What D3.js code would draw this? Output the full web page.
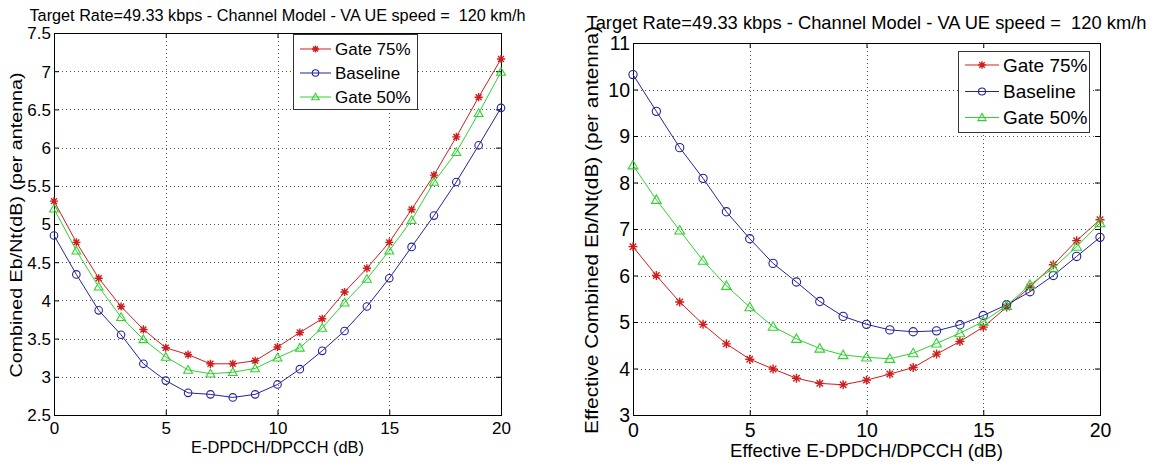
<!DOCTYPE html>
<html>
<head>
<meta charset="utf-8">
<script src="https://cdn.jsdelivr.net/npm/d3@7"></script>
<style>
  html, body { margin: 0; padding: 0; background: #fff; }
  svg { display: block; font-family: "Liberation Sans", Arial, sans-serif; }
  text { white-space: pre; }
</style>
</head>
<body>
<svg id="chart" width="1157" height="466"></svg>
<script>
// ---------------- data ----------------
const titleText = "Target Rate=49.33 kbps - Channel Model - VA UE speed =  120 km/h";
const xValues = d3.range(0, 21); // 0..20 dB

// Left chart: Combined Eb/Nt vs E-DPDCH/DPCCH
const leftGate75   = [5.30, 4.76, 4.29, 3.92, 3.62, 3.38, 3.29, 3.17, 3.17, 3.21, 3.39, 3.58, 3.76, 4.11, 4.42, 4.76, 5.19, 5.64, 6.14, 6.66, 7.16];
const leftBaseline = [4.85, 4.34, 3.87, 3.55, 3.17, 2.95, 2.79, 2.77, 2.73, 2.77, 2.90, 3.10, 3.34, 3.60, 3.92, 4.29, 4.70, 5.11, 5.55, 6.03, 6.52];
const leftGate50   = [5.20, 4.65, 4.18, 3.78, 3.49, 3.26, 3.09, 3.04, 3.06, 3.11, 3.25, 3.38, 3.64, 3.97, 4.28, 4.65, 5.05, 5.55, 5.94, 6.45, 6.99];

// Right chart: Effective Combined Eb/Nt vs Effective E-DPDCH/DPCCH
const rightGate75   = [6.62, 6.00, 5.43, 4.95, 4.53, 4.20, 3.99, 3.79, 3.68, 3.65, 3.75, 3.88, 4.02, 4.31, 4.58, 4.89, 5.32, 5.75, 6.23, 6.75, 7.20];
const rightBaseline = [10.32, 9.53, 8.75, 8.09, 7.37, 6.79, 6.26, 5.86, 5.44, 5.12, 4.95, 4.83, 4.79, 4.81, 4.94, 5.14, 5.37, 5.65, 6.00, 6.41, 6.82];
const rightGate50   = [8.37, 7.63, 6.97, 6.32, 5.78, 5.32, 4.90, 4.64, 4.43, 4.29, 4.24, 4.21, 4.33, 4.54, 4.76, 5.01, 5.35, 5.80, 6.16, 6.62, 7.13];

const seriesNames = ["Gate 75%", "Baseline", "Gate 50%"];
const seriesMarkers = ["star", "circle", "triangle"];
const seriesColors = ["#d01e1e", "#23239c", "#2fd22f"];

const xTicks = [0, 5, 10, 15, 20];
const leftYTicks = [2.5, 3, 3.5, 4, 4.5, 5, 5.5, 6, 6.5, 7, 7.5];
const rightYTicks = [3, 4, 5, 6, 7, 8, 9, 10, 11];

const leftYLabel = "Combined Eb/Nt(dB) (per antenna)";
const rightYLabel = "Effective Combined Eb/Nt(dB) (per antenna)";
const leftXLabel = "E-DPDCH/DPCCH (dB)";
const rightXLabel = "Effective E-DPDCH/DPCCH (dB)";

// ---------------- layout ----------------
const panels = [
  {
    x0: 54, x1: 501, y0: 33, y1: 415, ydom: [2.5, 7.5], yticks: leftYTicks,
    series: [leftGate75, leftBaseline, leftGate50],
    font: 16.5, titleFont: 16.3, tickFont: 17, titleY: 21, titleLen: 496,
    xTickY: 434, xLabelY: 453, xLabel: leftXLabel, xLabelLen: 173,
    yLabel: leftYLabel, yLabelX: 22, yLabelLen: 305,
    legend: { x: 293, y: 34, w: 124, h: 75, rows: [49, 73, 97], s0: 300, s1: 331, tx: 335 },
    mk: 1.05
  },
  {
    x0: 633, x1: 1100, y0: 43, y1: 415, ydom: [3, 11], yticks: rightYTicks,
    series: [rightGate75, rightBaseline, rightGate50],
    font: 18.5, titleFont: 18.2, tickFont: 19.5, titleY: 28.5, titleLen: 560,
    xTickY: 437, xLabelY: 457, xLabel: rightXLabel, xLabelLen: 273,
    yLabel: rightYLabel, yLabelX: 598, yLabelLen: 408,
    legend: { x: 958, y: 51, w: 131, h: 81, rows: [65, 91.5, 117.5], s0: 965, s1: 999, tx: 1003 },
    mk: 1.15
  }
];

const svg = d3.select("#chart");

function drawMarker(g, type, cx, cy, color, k) {
  if (type === "circle") {
    g.append("circle").attr("cx", cx).attr("cy", cy).attr("r", 3.6 * k)
      .attr("fill", "none").attr("stroke", color).attr("stroke-width", 1.1);
  } else if (type === "triangle") {
    const h = 4.2 * k;
    g.append("path")
      .attr("d", `M${cx},${cy - h} L${cx + h},${cy + h * 0.75} L${cx - h},${cy + h * 0.75} Z`)
      .attr("fill", "none").attr("stroke", color).attr("stroke-width", 1.1);
  } else {
    const a = 3.9 * k, b = a * 0.72;
    g.append("path")
      .attr("d", `M${cx - a},${cy} L${cx + a},${cy} M${cx},${cy - a} L${cx},${cy + a} M${cx - b},${cy - b} L${cx + b},${cy + b} M${cx - b},${cy + b} L${cx + b},${cy - b}`)
      .attr("stroke", color).attr("stroke-width", 1.4);
  }
}

panels.forEach(p => {
  const x = d3.scaleLinear().domain([0, 20]).range([p.x0, p.x1]);
  const y = d3.scaleLinear().domain(p.ydom).range([p.y1, p.y0]);
  const g = svg.append("g");

  g.append("rect").attr("x", p.x0).attr("y", p.y0)
    .attr("width", p.x1 - p.x0).attr("height", p.y1 - p.y0).attr("fill", "#fff");

  // grid (dotted)
  const grid = g.append("g").attr("stroke", "#555").attr("stroke-width", 1)
    .attr("stroke-dasharray", "1,3").attr("shape-rendering", "crispEdges");
  xTicks.slice(1, -1).forEach(t => {
    grid.append("line").attr("x1", Math.round(x(t)) + 0.5).attr("x2", Math.round(x(t)) + 0.5)
      .attr("y1", p.y0).attr("y2", p.y1);
  });
  p.yticks.slice(1, -1).forEach(t => {
    grid.append("line").attr("y1", Math.round(y(t)) + 0.5).attr("y2", Math.round(y(t)) + 0.5)
      .attr("x1", p.x0).attr("x2", p.x1);
  });

  // axes (ticks inward)
  const xAxisB = d3.axisBottom(x).tickValues(xTicks).tickSizeInner(-5).tickSizeOuter(0).tickFormat(d3.format("d"));
  const xAxisT = d3.axisTop(x).tickValues(xTicks).tickSizeInner(-5).tickSizeOuter(0).tickFormat("");
  const yAxisL = d3.axisLeft(y).tickValues(p.yticks).tickSizeInner(-5).tickSizeOuter(0).tickFormat(d => String(d));
  const yAxisR = d3.axisRight(y).tickValues(p.yticks).tickSizeInner(-5).tickSizeOuter(0).tickFormat("");

  const gxb = g.append("g").attr("transform", `translate(0,${p.y1})`).call(xAxisB);
  const gxt = g.append("g").attr("transform", `translate(0,${p.y0})`).call(xAxisT);
  const gyl = g.append("g").attr("transform", `translate(${p.x0},0)`).call(yAxisL);
  const gyr = g.append("g").attr("transform", `translate(${p.x1},0)`).call(yAxisR);
  [gxb, gxt, gyl, gyr].forEach(a => {
    a.select(".domain").remove();
    a.selectAll(".tick line").attr("stroke", "#000");
    a.selectAll("text").attr("font-size", p.tickFont).attr("fill", "#000")
      .attr("font-family", "Liberation Sans, Arial, sans-serif");
  });
  gxb.selectAll("text").attr("y", null).attr("dy", null)
    .attr("transform", `translate(0,${p.xTickY - p.y1})`);
  gyl.selectAll("text").attr("x", -3).attr("dy", "0.35em");

  // box
  g.append("rect").attr("x", p.x0 + 0.5).attr("y", p.y0 + 0.5)
    .attr("width", p.x1 - p.x0).attr("height", p.y1 - p.y0)
    .attr("fill", "none").attr("stroke", "#000").attr("stroke-width", 1);

  // series
  const line = d3.line().x((d, i) => x(xValues[i])).y(d => y(d));
  p.series.forEach((vals, si) => {
    const color = seriesColors[si];
    g.append("path").datum(vals).attr("d", line)
      .attr("fill", "none").attr("stroke", color).attr("stroke-width", 1);
    const mg = g.append("g");
    vals.forEach((v, i) => drawMarker(mg, seriesMarkers[si], x(xValues[i]), y(v), color, p.mk));
  });

  // legend
  const L = p.legend;
  const lg = g.append("g");
  lg.append("rect").attr("x", L.x + 0.5).attr("y", L.y + 0.5).attr("width", L.w).attr("height", L.h)
    .attr("fill", "#fff").attr("stroke", "#333").attr("stroke-width", 1);
  seriesNames.forEach((name, si) => {
    const cy = L.rows[si];
    lg.append("line").attr("x1", L.s0).attr("x2", L.s1).attr("y1", cy).attr("y2", cy)
      .attr("stroke", seriesColors[si]).attr("stroke-width", 1);
    drawMarker(lg, seriesMarkers[si], (L.s0 + L.s1) / 2, cy, seriesColors[si], p.mk * 0.85);
    lg.append("text").attr("x", L.tx).attr("y", cy).attr("dy", "0.36em")
      .attr("font-size", p.font + 0.5).attr("fill", "#000").text(name);
  });

  // title
  g.append("text").attr("x", (p.x0 + p.x1) / 2).attr("y", p.titleY)
    .attr("text-anchor", "middle").attr("font-size", p.titleFont).attr("fill", "#000")
    .attr("textLength", p.titleLen).attr("lengthAdjust", "spacingAndGlyphs")
    .text(titleText);

  // x label
  g.append("text").attr("x", (p.x0 + p.x1) / 2).attr("y", p.xLabelY)
    .attr("text-anchor", "middle").attr("font-size", p.font + 0.5).attr("fill", "#000")
    .attr("textLength", p.xLabelLen).attr("lengthAdjust", "spacingAndGlyphs")
    .text(p.xLabel);

  // y label
  g.append("text").attr("transform", `translate(${p.yLabelX},${(p.y0 + p.y1) / 2 + 1}) rotate(-90)`)
    .attr("text-anchor", "middle").attr("font-size", p.font + 0.5).attr("fill", "#000")
    .attr("textLength", p.yLabelLen).attr("lengthAdjust", "spacingAndGlyphs")
    .text(p.yLabel);
});
</script>
</body>
</html>
